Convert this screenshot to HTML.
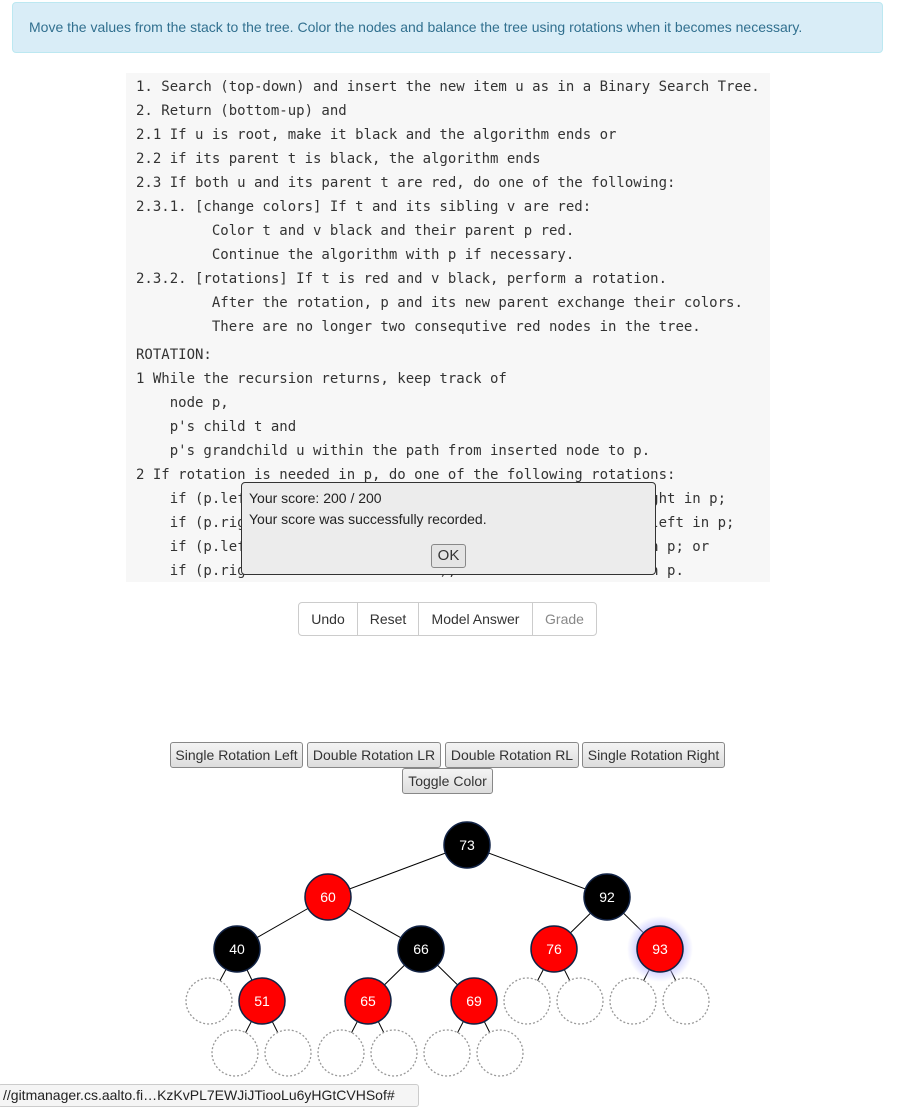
<!DOCTYPE html>
<html><head><meta charset="utf-8"><style>
body{margin:0;width:900px;height:1105px;position:relative;background:#fff;font-family:"Liberation Sans",sans-serif;overflow:hidden}
.alert{position:absolute;left:12px;top:2px;background:#d9edf7;border:1px solid #bce8f1;border-radius:4px;color:#31708f;font-size:14px;line-height:49px;padding-left:16px;box-sizing:border-box;width:871px;height:51px}
.code{position:absolute;left:126px;top:73px;width:644px;height:509px;background:#f7f7f7;font-family:"DejaVu Sans Mono","Liberation Mono",monospace;font-size:14px;color:#333}
.code div{position:absolute;left:10px;white-space:pre;line-height:20px}
.dlg{position:absolute;left:241px;top:482px;width:415px;height:93px;background:#ececec;border:1px solid #333;border-radius:4px;box-sizing:border-box;font-size:14px;color:#222}
.btn{position:absolute;box-sizing:border-box;font-size:14px;text-align:center;color:#333}
.grp{top:602px;height:34px;line-height:32px;border:1px solid #ccc;background:#fff}
.rb{height:26px;line-height:24px;border:1px solid #888;border-radius:3px;background:linear-gradient(#f4f4f4,#ddd);font-size:14px}
.status{position:absolute;left:-2px;top:1084px;width:421px;height:23px;background:#f5f5f5;border:1px solid #ccc;border-radius:3px;font-size:14px;line-height:21px;color:#222;padding-left:4px;box-sizing:border-box}
</style></head><body>
<div class="alert">Move the values from the stack to the tree. Color the nodes and balance the tree using rotations when it becomes necessary.</div>
<div class="code" id="code"></div>
<div class="dlg">
<div style="position:absolute;left:7px;top:7px">Your score: 200 / 200</div>
<div style="position:absolute;left:7px;top:28px">Your score was successfully recorded.</div>
<div class="btn" style="left:189px;top:61px;width:35px;height:24px;line-height:22px;border:1px solid #888;border-radius:3px;background:#e4e4e4;font-size:15px">OK</div>
</div>
<div class="btn grp" style="left:298px;width:60px;border-radius:4px 0 0 4px">Undo</div>
<div class="btn grp" style="left:357px;width:62px">Reset</div>
<div class="btn grp" style="left:418px;width:115px">Model Answer</div>
<div class="btn grp" style="left:532px;width:65px;color:#888;border-radius:0 4px 4px 0">Grade</div>
<div class="btn rb" style="left:170px;top:742px;width:133px">Single Rotation Left</div>
<div class="btn rb" style="left:307px;top:742px;width:134px">Double Rotation LR</div>
<div class="btn rb" style="left:445px;top:742px;width:134px">Double Rotation RL</div>
<div class="btn rb" style="left:582px;top:742px;width:143px">Single Rotation Right</div>
<div class="btn rb" style="left:402px;top:768px;width:91px">Toggle Color</div>
<svg id="tree" width="900" height="1105" style="position:absolute;left:0;top:0;pointer-events:none">
<defs><radialGradient id="glow"><stop offset="0.6" stop-color="#b8b8ff" stop-opacity="0.8"/><stop offset="1" stop-color="#b8b8ff" stop-opacity="0"/></radialGradient></defs>
</svg>
<div class="status">//gitmanager.cs.aalto.fi…KzKvPL7EWJiJTiooLu6yHGtCVHSof#</div>
<script>
const lines=[
"1. Search (top-down) and insert the new item u as in a Binary Search Tree.",
"2. Return (bottom-up) and",
"2.1 If u is root, make it black and the algorithm ends or",
"2.2 if its parent t is black, the algorithm ends",
"2.3 If both u and its parent t are red, do one of the following:",
"2.3.1. [change colors] If t and its sibling v are red:",
"         Color t and v black and their parent p red.",
"         Continue the algorithm with p if necessary.",
"2.3.2. [rotations] If t is red and v black, perform a rotation.",
"         After the rotation, p and its new parent exchange their colors.",
"         There are no longer two consequtive red nodes in the tree.",
"ROTATION:",
"1 While the recursion returns, keep track of",
"    node p,",
"    p's child t and",
"    p's grandchild u within the path from inserted node to p.",
"2 If rotation is needed in p, do one of the following rotations:",
"    if (p.left == t and t.left == u), do a single rotation right in p;",
"    if (p.right == t and t.right == u), do a single rotation left in p;",
"    if (p.left == t and t.right == u), do a double rotation in p; or",
"    if (p.right == t and t.left == u), do a double rotation in p."];
const code=document.getElementById('code');
lines.forEach((t,i)=>{const d=document.createElement('div');


d.textContent=t;d.style.top=(4+i*24+(i>=11?4:0))+'px';code.appendChild(d);});

const nodeKeys=["73","60","92","40","66","76","93","","51","65","69","","","","","","","","","",""];
const nodeColors=["b","r","b","b","b","r","r","e","r","r","r","e","e","e","e","e","e","e","e","e","e"];
const nodeCx=[467,328,607,237,421,554,660,209,262,368,474,527,580,633,686,235,288,341,394,447,500];
const nodeLevel=[0,1,1,2,2,2,2,3,3,3,3,3,3,3,3,4,4,4,4,4,4];
const parent=[-1,0,0,1,1,2,2,3,3,4,4,5,5,6,6,8,8,9,9,10,10];
const NS="http://www.w3.org/2000/svg",svg=document.getElementById('tree'),R=23;
const cy=l=>845+l*52;
function mk(tag,a){const e=document.createElementNS(NS,tag);for(const k in a)e.setAttribute(k,a[k]);svg.appendChild(e);return e;}
nodeKeys.forEach((k,i)=>{if(parent[i]<0)return;const p=parent[i];
const l=mk('line',{x1:nodeCx[p],y1:cy(nodeLevel[p]),x2:nodeCx[i],y2:cy(nodeLevel[i]),stroke:'#000','stroke-width':1});

});
const g=mk('circle',{cx:660,cy:949,r:33,fill:'url(#glow)'});


nodeKeys.forEach((k,i)=>{const x=nodeCx[i],y=cy(nodeLevel[i]),c=nodeColors[i];
const e=c==='e';
const ci=mk('circle',{cx:x,cy:y,r:R,fill:e?'#fff':(c==='r'?'#f00':'#000'),stroke:e?'#999':'#112244','stroke-width':e?1.3:1.5,'stroke-dasharray':e?'2,2':'none'});


if(!e){const t=mk('text',{x:x,y:y+5,'text-anchor':'middle',fill:'#fff','font-size':14,'font-family':'Liberation Sans, sans-serif'});t.textContent=k;

}});
</script>
</body></html>
